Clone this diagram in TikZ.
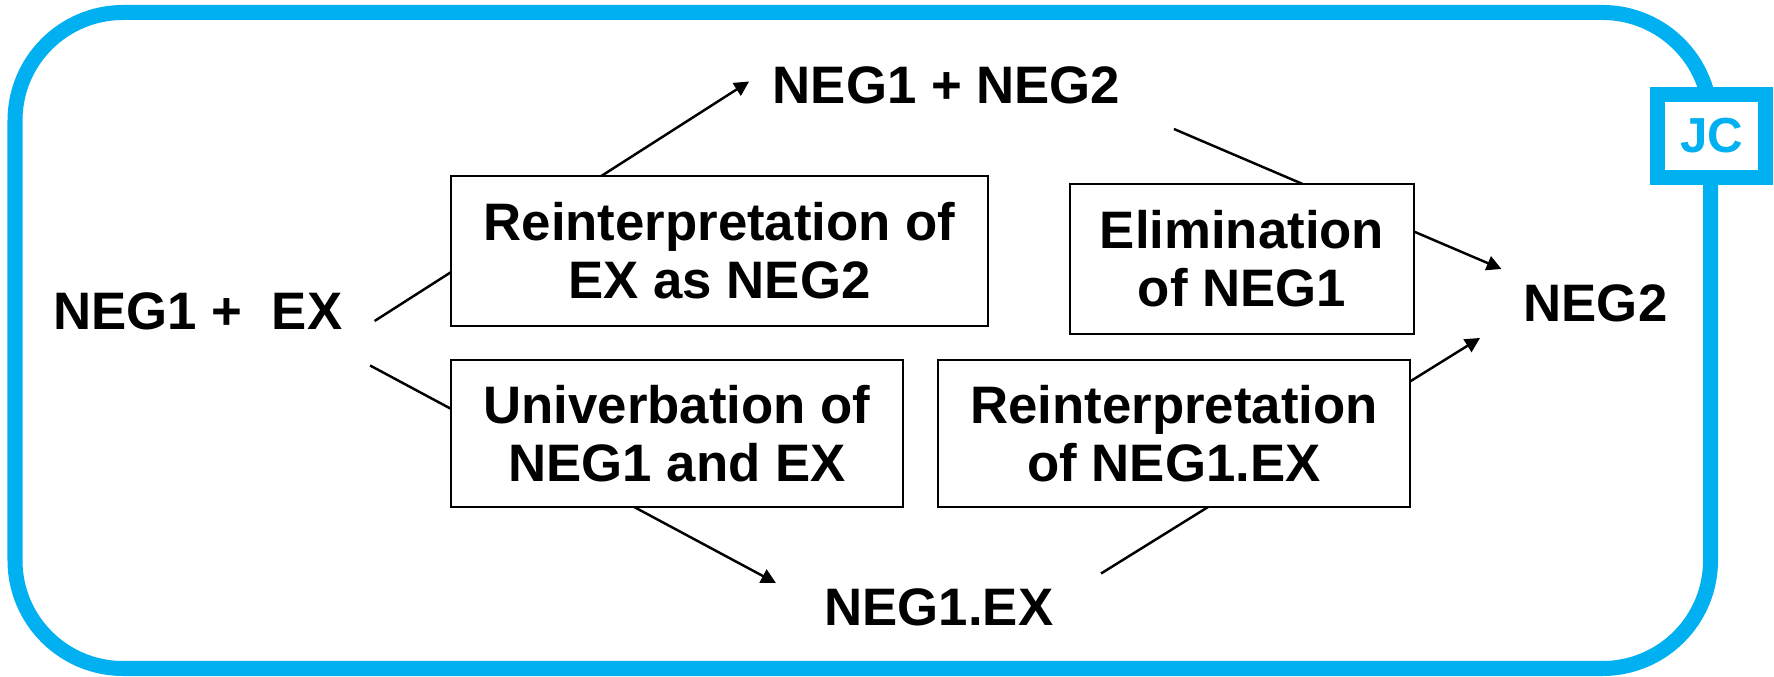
\documentclass[tikz,border=0pt]{standalone}
\usepackage{fontspec}
\setmainfont{Liberation Sans}
\usetikzlibrary{arrows.meta,calc}
\definecolor{jcblue}{RGB}{0,176,240}

\begin{document}
\begin{tikzpicture}[x=0.01cm,y=-0.01cm,
  term/.style={inner sep=0pt,font=\fontsize{15}{16.5}\selectfont\bfseries},
  stepbox/.style={draw,line width=0.6pt,fill=white,align=center,inner sep=0pt,font=\fontsize{15}{16.5}\selectfont\bfseries},
  arr/.style={line width=0.7pt,-{Triangle[length=4.2pt,width=4.2pt]}}]%
\useasboundingbox (0,0) rectangle (1774,677);%
\draw[jcblue,line width=0.15cm,rounded corners=1.08cm] (15,12.5) rectangle (1710.5,668.5);%
% the four forms
\node[term] (ex) at (198,311) {NEG1 +\ \ EX};%
\node[term] (neg12) at (946.5,85) {NEG1 + NEG2};%
\node[term] (negex) at (939,607.5) {NEG1.EX};%
\node[term] (neg2) at (1595.5,303) {NEG2};%
% paths (they pass behind the boxes)
\draw[arr] ($(ex.east)+(31.5,10)$) -- ($(neg12.west)+(-23,-3.5)$);%
\draw[arr] ($(ex.east)+(27,54.5)$) -- ($(negex.west)+(-48,-24.5)$);%
\draw[arr] ($(neg12.east)+(53,44)$) -- ($(neg2.west)+(-21.5,-34)$);%
\draw[arr] ($(negex.east)+(47,-34)$) -- ($(neg2.west)+(-43,35)$);%
% the four changes
\node[stepbox,minimum width=5.37cm,minimum height=1.50cm] (reint) at (719.5,251) {Reinterpretation of\\EX as NEG2};%
\node[stepbox,minimum width=3.44cm,minimum height=1.50cm] (elim) at (1242,259) {Elimination\\of NEG1};%
\node[stepbox,minimum width=4.52cm,minimum height=1.47cm] (univ) at (677,433.5) {Univerbation of\\NEG1 and EX};%
\node[stepbox,minimum width=4.72cm,minimum height=1.47cm] (reintex) at (1174,433.5) {Reinterpretation\\of NEG1.EX};%
\node[draw=jcblue,line width=0.15cm,fill=white,text=jcblue,minimum width=1.08cm,minimum height=0.83cm,inner sep=0pt,font=\fontsize{14}{16}\selectfont\bfseries] (jc) at (1711.5,136) {JC};%
\end{tikzpicture}
\end{document}
